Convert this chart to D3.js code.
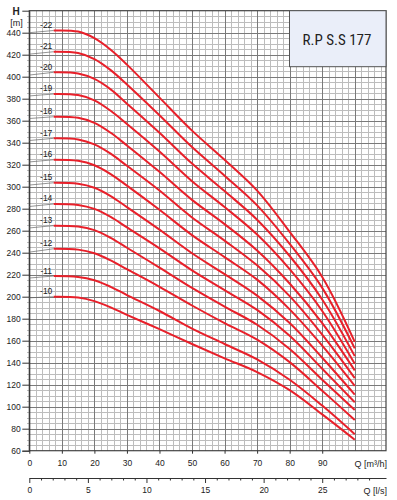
<!DOCTYPE html>
<html>
<head>
<meta charset="utf-8">
<script src="https://cdn.jsdelivr.net/npm/d3@7"></script>
<style>
	body { margin: 0; background: #fff; }
	svg { display: block; font-family: 'Liberation Sans', Arial, sans-serif; }
	.tick text { font-size: 8.5px; fill: #222; }
</style>
</head>
<body>
<svg id="chart" width="397" height="500"></svg>
<script>
// flow points [m3/h]; the first segment (0 -> 7.5) is the thin grey lead-in
const flows = [0, 7.5, 15, 20, 25, 30, 40, 50, 60, 70, 80, 90, 100];

const h22 = [440, 442, 441, 435, 424.5, 411, 381, 351, 324.5, 296.5, 259, 218, 159];
const h21 = [420.5, 422.7, 421.5, 416, 406, 393, 365, 336, 310, 283, 248, 208, 153];
const h20 = [401.5, 404, 403, 398, 388.5, 375.5, 349, 321, 296, 270, 237, 197.5, 146];
const h19 = [382.5, 384.3, 383.3, 378.5, 369, 357, 332, 305, 281.5, 256.5, 225, 187, 139];
const h18 = [362, 363.6, 362.6, 358, 349, 337.5, 313.5, 288, 266, 242, 212, 176, 133];
const h17 = [342, 344, 343, 338.5, 330, 319, 296.5, 272, 251, 228.5, 200.5, 165.5, 126];
const h16 = [322.5, 324.5, 323.5, 319.5, 311.5, 301, 279, 256, 236, 215.5, 188.5, 155.5, 119];
const h15 = [301.5, 303.6, 302.7, 299, 291.5, 281.5, 261, 239.5, 220.5, 201, 176, 144.5, 111];
const h14 = [282, 284.3, 283.4, 279.8, 272.5, 263, 244, 224, 206, 188, 164.5, 134.5, 104];
const h13 = [262.5, 264.6, 263.8, 260.5, 253.5, 244.5, 226.5, 208, 191, 174.5, 152.5, 124.5, 97];
const h12 = [240.5, 243.6, 242.8, 239.5, 233, 225, 209, 192, 176, 161, 140.5, 114.5, 88];
const h11 = [217, 218.8, 218, 215, 209, 201.5, 187, 171, 157, 143, 124.5, 101, 75];
const h10 = [199, 200, 199.3, 196, 190.3, 183.5, 170.5, 157, 144, 131.5, 115, 93, 70];

const stages = ['-22', '-21', '-20', '-19', '-18', '-17', '-16', '-15', '-14', '-13', '-12', '-11', '-10'];
const heads = [h22, h21, h20, h19, h18, h17, h16, h15, h14, h13, h12, h11, h10];

const yTicks = d3.range(60, 441, 20);
const qTicks = d3.range(0, 91, 10);
const lsTicks = d3.range(0, 26, 5);
const title = 'R.P S.S 177';

const pLeft = 29.3, pRight = 386, pTop = 10.7, pBottom = 450.7;
const svg = d3.select('#chart');

const x = d3.scaleLinear().domain([0, 109.6]).range([pLeft, pRight]);
const xls = d3.scaleLinear().domain([0, 109.6 / 3.6]).range([pLeft, pRight]);
const y = d3.scaleLinear().domain([60, 460]).range([pBottom, pTop]);

// grid
const grid = svg.append('g').attr('shape-rendering', 'crispEdges');
grid.selectAll('.vmin').data(d3.range(2, 109, 2).filter(d => d % 10)).enter().append('line')
	.attr('x1', d => Math.round(x(d)) + 0.5).attr('x2', d => Math.round(x(d)) + 0.5)
	.attr('y1', pTop).attr('y2', pBottom).attr('stroke', '#bdbdbd').attr('stroke-width', 1);
grid.selectAll('.hmin').data(d3.range(65, 460, 5).filter(d => d % 20)).enter().append('line')
	.attr('y1', d => Math.round(y(d)) + 0.5).attr('y2', d => Math.round(y(d)) + 0.5)
	.attr('x1', pLeft - 2).attr('x2', pRight).attr('stroke', '#bdbdbd').attr('stroke-width', 1);
grid.selectAll('.vmaj').data(d3.range(10, 109, 10)).enter().append('line')
	.attr('x1', d => Math.round(x(d)) + 0.5).attr('x2', d => Math.round(x(d)) + 0.5)
	.attr('y1', pTop).attr('y2', pBottom).attr('stroke', '#7a7a7a').attr('stroke-width', 1);
grid.selectAll('.hmaj').data(d3.range(80, 460, 20)).enter().append('line')
	.attr('y1', d => Math.round(y(d)) + 0.5).attr('y2', d => Math.round(y(d)) + 0.5)
	.attr('x1', pLeft).attr('x2', pRight).attr('stroke', '#7a7a7a').attr('stroke-width', 1);

// frame
svg.append('rect').attr('x', pLeft).attr('y', pTop).attr('width', pRight - pLeft).attr('height', pBottom - pTop)
	.attr('fill', 'none').attr('stroke', '#444').attr('stroke-width', 1.2);

// axes
const yAxis = svg.append('g').attr('transform', `translate(${pLeft},0)`)
	.call(d3.axisLeft(y).tickValues(yTicks).tickSize(7).tickPadding(1.5));
const qAxis = svg.append('g').attr('transform', `translate(0,${pBottom})`)
	.call(d3.axisBottom(x).tickValues(qTicks).tickSize(3).tickPadding(6));
const lsAxis = svg.append('g').attr('transform', 'translate(0,478)')
	.call(d3.axisBottom(xls).tickValues(lsTicks).tickSize(5).tickPadding(4).tickSizeOuter(0));
svg.append('g').attr('transform', 'translate(0,478)')
	.call(d3.axisBottom(xls).tickValues(d3.range(1, 30, 1).filter(d => d % 5)).tickSize(2.5).tickFormat('').tickSizeOuter(0))
	.call(g => g.select('.domain').remove())
	.selectAll('line').attr('stroke', '#333');

[yAxis, qAxis, lsAxis].forEach(a => {
	a.selectAll('line').attr('stroke', '#333');
	a.select('.domain').attr('stroke', '#333');
});
qAxis.select('.domain').remove();

svg.append('text').attr('x', 16).attr('y', 15).attr('text-anchor', 'middle')
	.attr('font-size', 10).attr('font-weight', 'bold').attr('fill', '#222').text('H');
svg.append('text').attr('x', 16.5).attr('y', 26).attr('text-anchor', 'middle')
	.attr('font-size', 9).attr('fill', '#222').text('[m]');
svg.append('text').attr('x', 387).attr('y', 466.5).attr('text-anchor', 'end')
	.attr('font-size', 9).attr('fill', '#222').text('Q [m³/h]');
svg.append('text').attr('x', 387).attr('y', 493.5).attr('text-anchor', 'end')
	.attr('font-size', 9).attr('fill', '#222').text('Q [l/s]');

// curves
const line = d3.line().x(d => x(d[0])).y(d => y(d[1])).curve(d3.curveCatmullRom.alpha(0.5));
const curves = svg.append('g');

heads.forEach((h, i) => {
	const pts = flows.map((q, j) => [q, h[j]]);

	curves.append('path').attr('d', line(pts.slice(0, 2)))
		.attr('fill', 'none').attr('stroke', '#666').attr('stroke-width', 0.7);
	curves.append('path').attr('d', line(pts.slice(1)))
		.attr('fill', 'none').attr('stroke', '#e8202a').attr('stroke-width', 2);
	curves.append('text').attr('x', x(5.2)).attr('y', y(h[1]) - 2.5)
		.attr('text-anchor', 'middle').attr('font-size', 8.5).attr('fill', '#222').text(stages[i]);
});

// title box
svg.append('rect').attr('x', 289.5).attr('y', pTop).attr('width', pRight - 289.5).attr('height', 56)
	.attr('fill', '#eaeef9').attr('stroke', '#555').attr('stroke-width', 1);
svg.append('text').attr('x', 337).attr('y', 45).attr('text-anchor', 'middle')
	.attr('font-family', "'Liberation Sans Narrow', 'Roboto Condensed', sans-serif")
	.attr('font-size', 15).attr('fill', '#222').text(title);
</script>
</body>
</html>
